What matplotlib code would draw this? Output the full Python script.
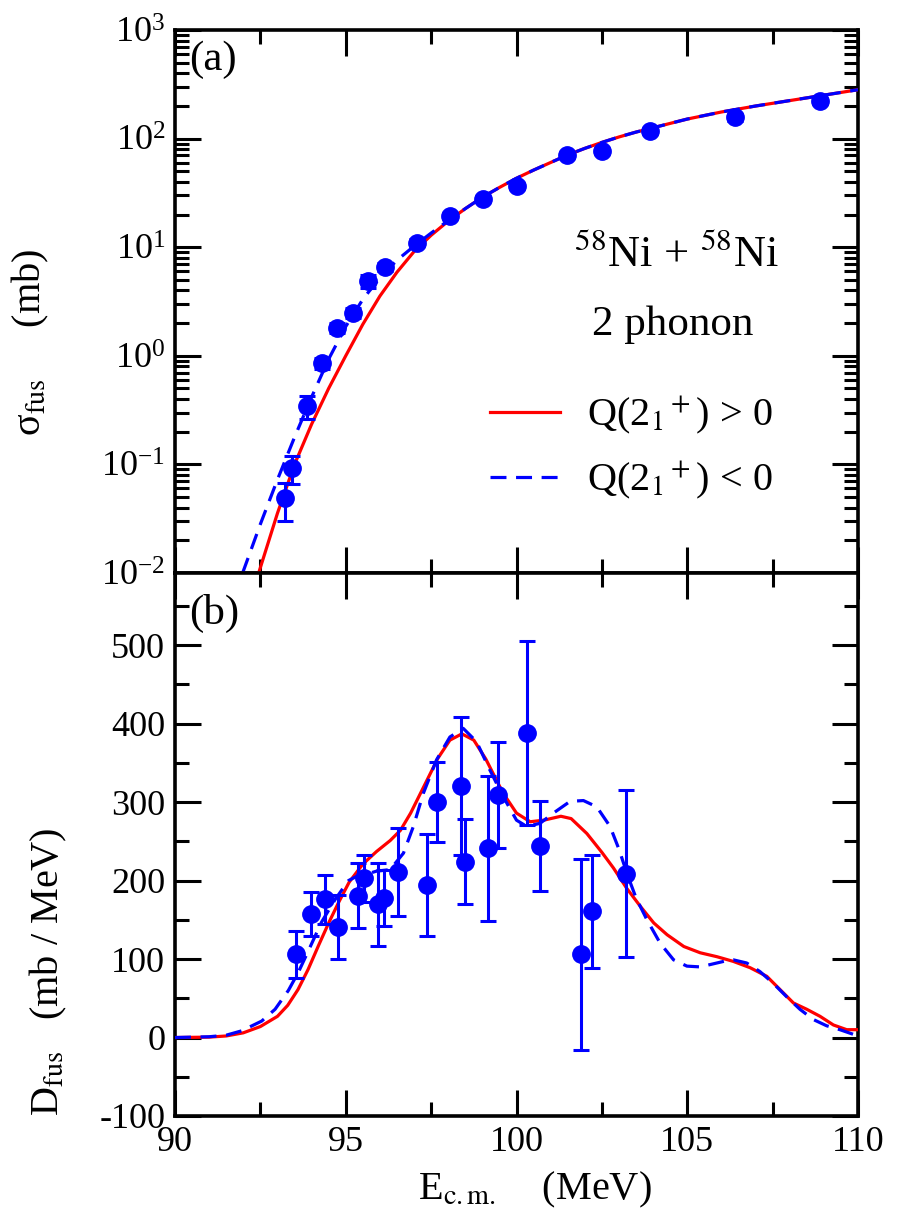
import numpy as np
import matplotlib
matplotlib.use("Agg")
import matplotlib.pyplot as plt
from matplotlib.ticker import MultipleLocator, LogLocator, NullFormatter, LogFormatterMathtext

plt.rcParams['font.family'] = ['Liberation Serif', 'DejaVu Serif']
plt.rcParams['mathtext.fontset'] = 'stix'
plt.rcParams['axes.unicode_minus'] = False

# ---------------- data: (a) fusion cross section ----------------
sig_E = [93.22, 93.42, 93.86, 94.30, 94.73, 95.20, 95.66, 96.15, 97.08, 98.05,
         99.01, 100.0, 101.49, 102.5, 103.9, 106.4, 108.9]
sig_val = [0.049, 0.093, 0.345, 0.86, 1.82, 2.5, 4.9, 6.6, 11.0, 19.4,
           27.7, 36.5, 70.6, 77.5, 117, 157, 222]
sig_err = [0.019, 0.027, 0.085, 0.10, 0.20, 0.25, 0.7, 0.5, 0.8, 1.2,
           1.8, 2.4, 4.5, 5.0, 7.0, 12.0, 15.0]

# theory curves (log10 sigma)
red_a_E = [92.45, 93.0, 93.5, 94.0, 94.5, 95.0, 95.5, 96.0, 96.5, 97.0, 97.5,
           98.0, 98.5, 99.0, 99.5, 100.0, 100.5, 101.0, 101.5, 102.0, 102.5,
           103.0, 103.5, 104.0, 105.0, 106.0, 107.0, 108.0, 109.0, 110.0]
red_a_log = [-2.0, -1.45, -1.0, -0.63, -0.30, 0.0, 0.29, 0.55, 0.77, 0.96, 1.11,
             1.24, 1.355, 1.46, 1.55, 1.635, 1.71, 1.78, 1.85, 1.91, 1.965,
             2.015, 2.06, 2.10, 2.18, 2.245, 2.30, 2.35, 2.40, 2.45]
blue_a_E = [91.98, 92.5, 93.0, 93.5, 94.0, 94.5, 95.0, 95.5, 96.0, 96.5, 97.0,
            97.5, 98.0, 98.5, 99.0, 99.5, 100.0, 100.5, 101.0, 101.5, 102.0,
            102.5, 103.0, 103.5, 104.0, 105.0, 106.0, 107.0, 108.0, 109.0, 110.0]
blue_a_log = [-2.0, -1.55, -1.14, -0.75, -0.38, -0.03, 0.27, 0.52, 0.72, 0.88, 1.01,
              1.13, 1.245, 1.355, 1.46, 1.55, 1.635, 1.71, 1.78, 1.85, 1.91,
              1.965, 2.015, 2.06, 2.10, 2.18, 2.245, 2.30, 2.35, 2.40, 2.45]

# ---------------- data: (b) barrier distribution ----------------
D_E = [93.53, 93.97, 94.38, 94.78, 95.37, 95.52, 95.93, 96.12, 96.52, 97.38,
       97.67, 98.37, 98.49, 99.17, 99.45, 100.3, 100.7, 101.9, 102.2, 103.21]
D_val = [106, 157, 176, 141, 181, 203, 170, 178, 211, 194,
         300, 320, 224, 241, 309, 388, 244, 106, 161, 209]
D_err = [30, 28, 31, 41, 41, 30, 53, 36, 56, 65,
         51, 88, 54, 92, 67, 117, 57, 122, 72, 106]

red_b_E = [90, 91, 91.5, 92, 92.5, 93, 93.3, 93.6, 93.9, 94.2, 94.5, 94.8, 95.1,
           95.5, 95.9, 96.3, 96.6, 96.9, 97.3, 97.7, 98.05, 98.4, 98.75, 99.1,
           99.6, 100.0, 100.4, 100.8, 101.3, 101.6, 102.06, 102.5, 102.84, 103.23,
           103.63, 104.02, 104.41, 104.9, 105.38, 105.87, 106.35, 106.84, 107.33,
           107.72, 108.11, 108.5, 108.89, 109.28, 109.67, 110]
red_b_D = [0, 0.5, 2, 6, 14, 27, 41, 61, 87, 117, 146, 173, 198,
           221, 237, 251, 264, 286, 321, 356, 379, 387, 379, 355,
           312, 286, 275, 277, 282, 279, 260, 236, 216, 190,
           167, 146, 131, 116, 108, 103, 97, 89, 78,
           61, 44, 36, 27, 16, 10, 10]
blue_b_E = [90, 91, 91.5, 91.95, 92.54, 92.93, 93.32, 93.61, 93.9, 94.29, 94.69,
            95.08, 95.3, 95.51, 95.9, 96.3, 96.69, 96.98, 97.27, 97.66, 98.05,
            98.44, 98.83, 99.22, 99.61, 100.0, 100.3, 100.69, 101.08, 101.57,
            101.96, 102.35, 102.74, 103.0, 103.25, 103.5, 103.82, 104.21, 104.6,
            104.99, 105.38, 105.77, 106.16, 106.35, 106.74, 107.13, 107.52,
            107.91, 108.3, 108.69, 109.08, 109.47, 110]
blue_b_D = [0, 1, 3, 8.5, 21, 36, 60, 83, 110, 147, 176,
            200, 205, 207, 212, 214, 235, 269, 311, 354, 383,
            394, 377, 341, 307, 277, 269, 273, 286, 301,
            302, 294, 269, 240, 207, 178, 150, 120, 99,
            91, 90, 94, 98, 99, 95, 84, 69,
            52, 36, 23, 15, 10, 2]

# ---------------- figure ----------------
W, H = 897, 1231
fig = plt.figure(figsize=(W / 100, H / 100), dpi=100)
L, R = 175 / W, 858 / W
axa = fig.add_axes([L, 1 - 573 / H, R - L, 543 / H])
axb = fig.add_axes([L, 1 - 1116 / H, R - L, 543 / H])

TFS = 26     # tick labels
LFS = 29     # axis labels
XFS = 31     # annotations
red = '#ff0000'
blue = '#0000ff'

def style(ax):
    for s in ax.spines.values():
        s.set_linewidth(2.6)
    ax.tick_params(which='both', direction='in', top=True, right=True,
                   width=2.2, labelsize=TFS, pad=7)
    ax.tick_params(which='major', length=19)
    ax.tick_params(which='minor', length=10)
    ax.set_xlim(90, 110)
    ax.xaxis.set_major_locator(MultipleLocator(5))
    ax.xaxis.set_minor_locator(MultipleLocator(2.5))

# (a)
style(axa)
axa.set_yscale('log')
axa.set_ylim(1e-2, 1e3)
axa.yaxis.set_major_locator(LogLocator(base=10, numticks=10))
axa.yaxis.set_minor_locator(LogLocator(base=10, subs=np.arange(2, 10), numticks=20))
axa.yaxis.set_minor_formatter(NullFormatter())
axa.yaxis.set_major_formatter(LogFormatterMathtext())
axa.tick_params(axis='x', labelbottom=False)

axa.plot(red_a_E, 10 ** np.array(red_a_log), color=red, lw=2.3,
         label=r'Q(2$_1$$^+$) > 0', zorder=3)
axa.plot(blue_a_E, 10 ** np.array(blue_a_log), color=blue, lw=2.3, ls=(0, (5, 3)),
         label=r'Q(2$_1$$^+$) < 0', zorder=4)
axa.errorbar(sig_E, sig_val, yerr=sig_err, fmt='o', color=blue, ms=12.5, elinewidth=2.2,
             capsize=6, capthick=2.2, zorder=5)

axa.text(0.02, 0.945, '(a)', transform=axa.transAxes, fontsize=XFS, va='center', ha='left')
axa.text(0.735, 0.585, r'$^{58}$Ni + $^{58}$Ni', transform=axa.transAxes, fontsize=XFS + 1,
         va='center', ha='center')
axa.text(0.728, 0.457, '2 phonon', transform=axa.transAxes, fontsize=XFS,
         va='center', ha='center')
axa.legend(loc='center left', bbox_to_anchor=(0.461, 0.231), frameon=False, fontsize=29,
           handlelength=1.75, handletextpad=0.65, labelspacing=0.55,
           borderpad=0, borderaxespad=0)
axa.set_ylabel('σ$_{\\rm fus}$     (mb)', fontsize=LFS)
axa.yaxis.set_label_coords(-0.182, 0.425)

# (b)
style(axb)
axb.set_ylim(-100, 592)
axb.yaxis.set_major_locator(MultipleLocator(100))
axb.yaxis.set_minor_locator(MultipleLocator(50))
axb.plot(red_b_E, red_b_D, color=red, lw=2.3, zorder=3)
axb.plot(blue_b_E, blue_b_D, color=blue, lw=2.3, ls=(0, (5, 3)), zorder=4)
axb.errorbar(D_E, D_val, yerr=D_err, fmt='o', color=blue, ms=12.5, elinewidth=2.2,
             capsize=6, capthick=2.2, zorder=5)
axb.text(0.02, 0.926, '(b)', transform=axb.transAxes, fontsize=XFS, va='center', ha='left')
axb.set_ylabel(r'D$_{\rm fus}$   (mb / MeV)', fontsize=LFS)
axb.yaxis.set_label_coords(-0.155, 0.265)
axb.set_xlabel(r'E$_{\rm c.m.}$    (MeV)', fontsize=LFS, labelpad=2)
axb.xaxis.set_label_coords(0.527, -0.1)

fig.savefig('out.png', dpi=100)
